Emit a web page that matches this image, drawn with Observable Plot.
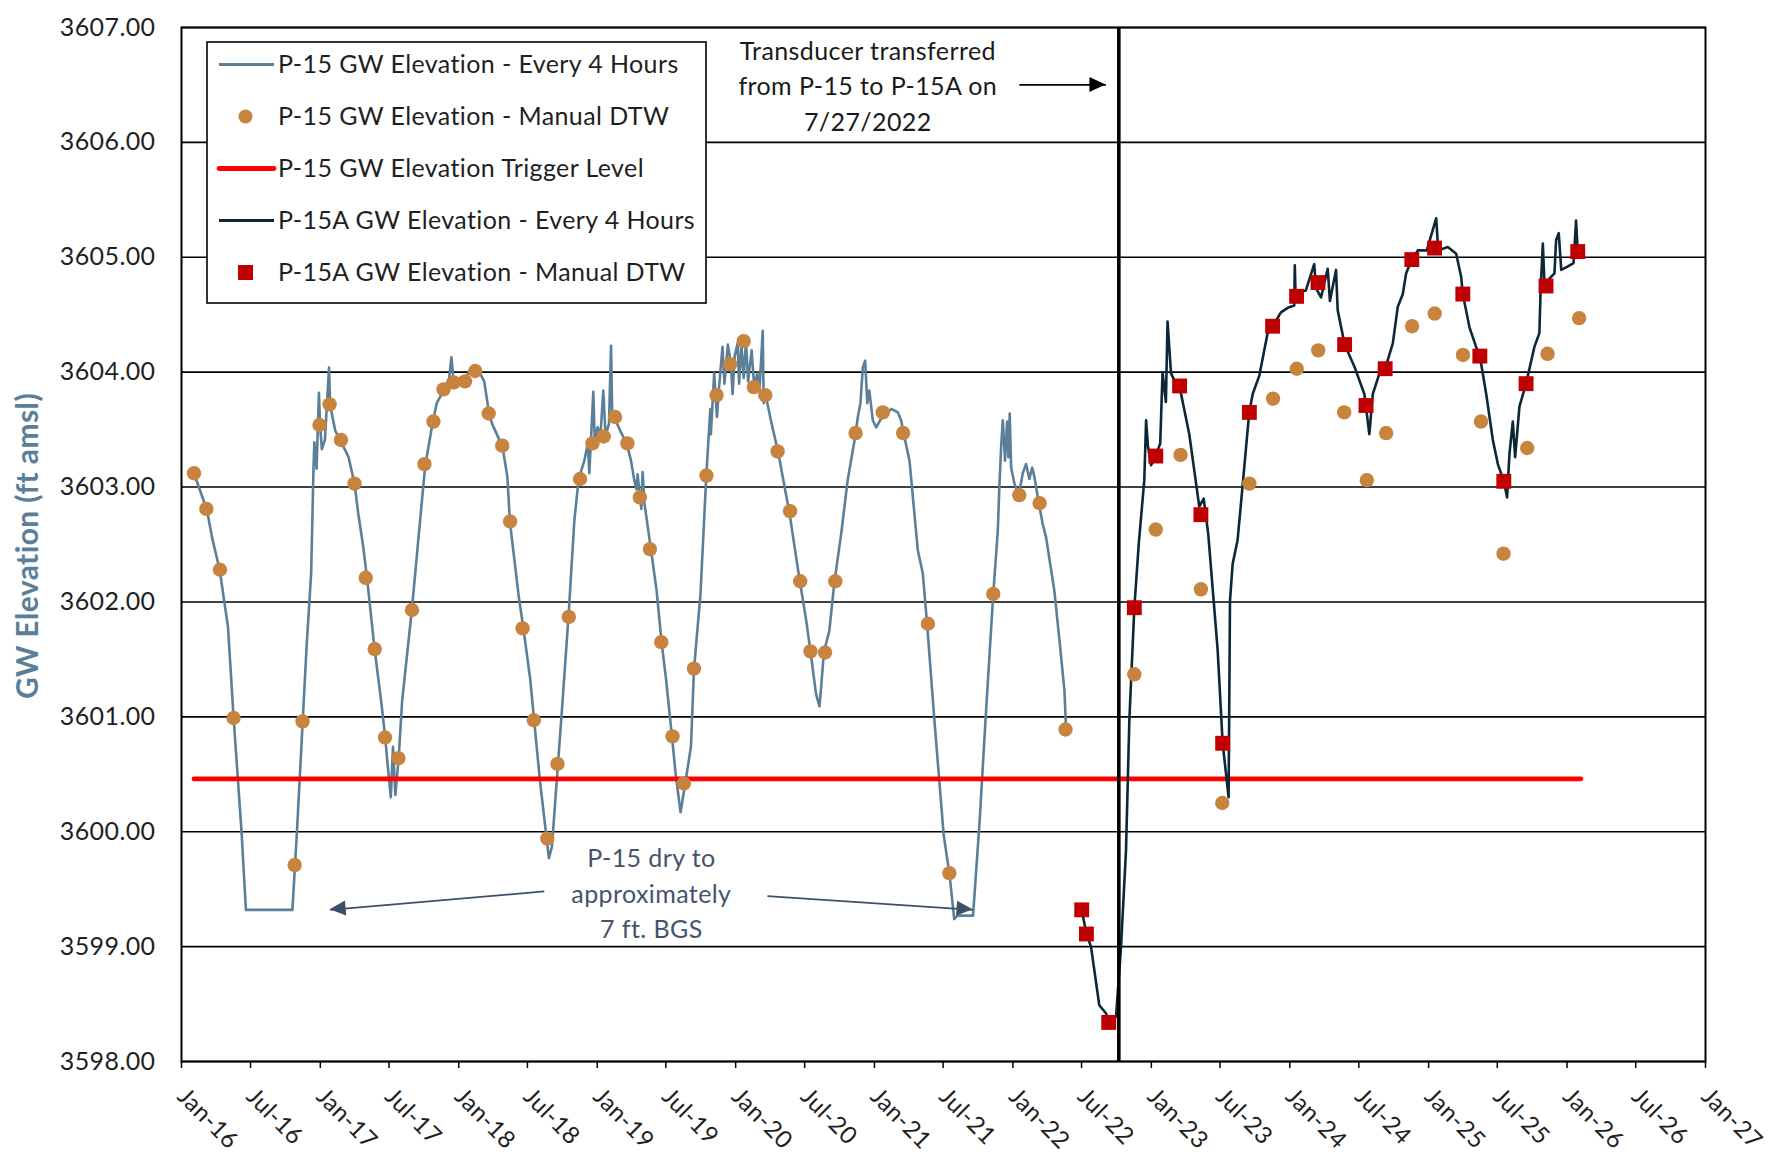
<!DOCTYPE html>
<html>
<head>
<meta charset="utf-8">
<script src="https://cdn.jsdelivr.net/npm/d3@7"></script>
<script src="https://cdn.jsdelivr.net/npm/@observablehq/plot@0.6"></script>
<style>
  body { margin: 0; background: #fff; }
  #chart { width: 1770px; height: 1154px; }
  #chart svg text { letter-spacing: 0.4px; }
</style>
</head>
<body>
<div id="chart"></div>
<script>
// ---------- DATA ----------
// P-15 GW Elevation - Every 4 Hours (decimal year, ft amsl)
const p15LineYear = [2016.090,2016.183,2016.224,2016.275,2016.335,2016.376,2016.432,2016.464,2016.799,2016.832,
2016.873,2016.901,2016.934,2016.951,2016.957,2016.973,2016.990,2016.998,2017.011,2017.033,
2017.063,2017.071,2017.108,2017.144,2017.204,2017.247,2017.274,2017.310,2017.338,2017.392,
2017.439,2017.470,2017.481,2017.509,2017.525,2017.542,2017.566,2017.591,2017.661,2017.730,
2017.758,2017.813,2017.841,2017.890,2017.931,2017.947,2017.964,2018.045,2018.086,2018.135,
2018.184,2018.219,2018.241,2018.316,2018.351,2018.370,2018.434,2018.467,2018.517,2018.545,
2018.586,2018.628,2018.651,2018.673,2018.716,2018.747,2018.793,2018.835,2018.866,2018.907,
2018.932,2018.943,2018.954,2018.972,2018.982,2019.003,2019.023,2019.044,2019.060,2019.085,
2019.100,2019.109,2019.123,2019.170,2019.215,2019.244,2019.268,2019.284,2019.292,2019.309,
2019.319,2019.328,2019.341,2019.388,2019.429,2019.465,2019.498,2019.540,2019.566,2019.602,
2019.636,2019.677,2019.699,2019.746,2019.788,2019.817,2019.821,2019.845,2019.865,2019.879,
2019.905,2019.919,2019.944,2019.966,2019.978,2019.993,2020.014,2020.025,2020.041,2020.058,
2020.074,2020.090,2020.115,2020.134,2020.156,2020.172,2020.195,2020.202,2020.218,2020.254,
2020.307,2020.339,2020.387,2020.447,2020.464,2020.508,2020.539,2020.579,2020.604,2020.620,
2020.635,2020.675,2020.711,2020.760,2020.807,2020.864,2020.880,2020.899,2020.916,2020.933,
2020.948,2020.963,2020.988,2021.013,2021.049,2021.121,2021.169,2021.193,2021.210,2021.253,
2021.313,2021.349,2021.380,2021.433,2021.500,2021.541,2021.576,2021.598,2021.712,2021.760,
2021.801,2021.858,2021.891,2021.902,2021.915,2021.927,2021.943,2021.958,2021.968,2021.977,
2021.987,2022.011,2022.043,2022.071,2022.095,2022.119,2022.139,2022.155,2022.187,2022.215,
2022.240,2022.299,2022.336,2022.372,2022.384];
const p15LineValue = [3603.12,3602.80,3602.54,3602.28,3601.78,3600.98,3600.01,3599.32,3599.32,3600.01,
3600.96,3601.61,3602.25,3603.17,3603.39,3603.16,3603.82,3603.54,3603.33,3603.41,
3604.04,3603.71,3603.49,3603.41,3603.26,3603.03,3602.77,3602.48,3602.20,3601.59,
3601.14,3600.81,3600.65,3600.30,3600.74,3600.32,3600.64,3601.14,3601.93,3602.83,
3603.19,3603.57,3603.73,3603.84,3603.95,3604.13,3603.90,3603.94,3604.03,3604.03,
3603.92,3603.64,3603.55,3603.35,3603.09,3602.69,3602.04,3601.77,3601.32,3600.96,
3600.45,3600.01,3599.77,3599.87,3600.58,3601.09,3601.88,3602.71,3603.07,3603.23,
3603.38,3603.12,3603.39,3603.83,3603.40,3603.52,3603.44,3603.84,3603.45,3603.55,
3604.23,3603.58,3603.61,3603.48,3603.37,3603.23,3603.06,3602.98,3603.11,3602.90,
3602.81,3603.13,3602.86,3602.46,3602.10,3601.65,3601.32,3600.83,3600.51,3600.17,
3600.42,3600.74,3601.41,3602.07,3603.10,3603.68,3603.46,3603.99,3603.61,3603.85,
3604.22,3603.90,3604.24,3604.07,3603.81,3604.14,3604.25,3603.90,3604.24,3603.95,
3604.27,3603.92,3604.19,3603.87,3603.99,3603.85,3604.36,3603.73,3603.79,3603.58,
3603.30,3603.09,3602.78,3602.30,3602.17,3601.84,3601.57,3601.20,3601.09,3601.32,
3601.56,3601.75,3602.17,3602.59,3603.06,3603.46,3603.61,3603.73,3604.04,3604.10,
3603.73,3603.84,3603.58,3603.52,3603.60,3603.68,3603.65,3603.58,3603.47,3603.23,
3602.45,3602.25,3601.81,3600.97,3599.97,3599.64,3599.24,3599.27,3599.27,3600.10,
3600.95,3602.07,3602.62,3603.00,3603.35,3603.58,3603.23,3603.57,3603.26,3603.64,
3603.17,3603.03,3602.93,3603.12,3603.20,3603.07,3603.17,3603.09,3602.86,3602.68,
3602.56,3602.10,3601.67,3601.23,3600.90];

// P-15 GW Elevation - Manual DTW
const p15ManualYear = [2016.090,2016.179,2016.277,2016.375,2016.815,2016.872,2016.994,2017.067,2017.149,2017.247,
2017.328,2017.393,2017.467,2017.564,2017.662,2017.752,2017.817,2017.890,2017.964,2018.045,
2018.119,2018.216,2018.314,2018.371,2018.461,2018.542,2018.640,2018.713,2018.795,2018.876,
2018.966,2019.047,2019.129,2019.218,2019.308,2019.381,2019.463,2019.544,2019.626,2019.699,
2019.789,2019.862,2019.960,2020.058,2020.131,2020.213,2020.302,2020.392,2020.465,2020.539,
2020.644,2020.718,2020.864,2021.060,2021.207,2021.386,2021.541,2021.858,2022.046,2022.193,
2022.380,2022.877,2023.032,2023.211,2023.358,2023.512,2023.708,2023.879,2024.050,2024.205,
2024.392,2024.555,2024.694,2024.881,2025.044,2025.248,2025.378,2025.541,2025.712,2025.859,
2026.087];
const p15ManualValue = [3603.12,3602.81,3602.28,3600.99,3599.71,3600.96,3603.54,3603.72,3603.41,3603.03,
3602.21,3601.59,3600.82,3600.64,3601.93,3603.20,3603.57,3603.85,3603.91,3603.92,
3604.01,3603.64,3603.36,3602.70,3601.77,3600.97,3599.94,3600.59,3601.87,3603.07,
3603.38,3603.44,3603.61,3603.38,3602.91,3602.46,3601.65,3600.83,3600.42,3601.42,
3603.10,3603.80,3604.07,3604.27,3603.87,3603.80,3603.31,3602.79,3602.18,3601.57,
3601.56,3602.18,3603.47,3603.65,3603.47,3601.81,3599.64,3602.07,3602.93,3602.86,
3600.89,3601.37,3602.63,3603.28,3602.11,3600.25,3603.03,3603.77,3604.03,3604.19,
3603.65,3603.06,3603.47,3604.40,3604.51,3604.15,3603.57,3602.42,3603.34,3604.16,
3604.47];

// P-15A GW Elevation - Every 4 Hours
const p15aLineYear = [2022.497,2022.531,2022.564,2022.624,2022.672,2022.692,2022.745,2022.781,2022.817,2022.841,
2022.877,2022.910,2022.949,2022.962,2022.975,2022.998,2023.032,2023.064,2023.081,2023.105,
2023.117,2023.142,2023.170,2023.203,2023.274,2023.346,2023.378,2023.411,2023.479,2023.515,
2023.558,2023.568,2023.587,2023.623,2023.659,2023.707,2023.732,2023.780,2023.840,2023.876,
2023.936,2023.985,2024.032,2024.036,2024.042,2024.083,2024.115,2024.176,2024.189,2024.225,
2024.273,2024.289,2024.333,2024.345,2024.395,2024.465,2024.537,2024.573,2024.598,2024.646,
2024.687,2024.742,2024.778,2024.814,2024.838,2024.879,2024.922,2024.987,2025.055,2025.069,
2025.139,2025.199,2025.235,2025.247,2025.295,2025.343,2025.370,2025.416,2025.464,2025.500,
2025.543,2025.567,2025.584,2025.608,2025.625,2025.656,2025.704,2025.764,2025.800,2025.808,
2025.825,2025.837,2025.909,2025.921,2025.940,2025.958,2026.006,2026.047,2026.065,2026.077];
const p15aLineValue = [3599.32,3599.11,3599.00,3598.49,3598.42,3598.34,3598.39,3599.00,3599.84,3600.97,
3601.95,3602.52,3603.06,3603.58,3603.36,3603.19,3603.27,3603.38,3604.00,3603.74,
3604.44,3603.99,3603.92,3603.88,3603.46,3602.83,3602.90,3602.59,3601.58,3600.77,
3600.30,3602.01,3602.33,3602.54,3603.01,3603.65,3603.81,3603.97,3604.34,3604.40,
3604.52,3604.56,3604.58,3604.93,3604.66,3604.70,3604.71,3604.94,3604.73,3604.65,
3604.90,3604.62,3604.89,3604.54,3604.24,3604.05,3603.81,3603.46,3603.81,3603.99,
3604.03,3604.25,3604.57,3604.68,3604.86,3604.98,3605.06,3605.06,3605.34,3605.06,
3605.09,3605.03,3604.83,3604.68,3604.39,3604.22,3604.14,3603.81,3603.41,3603.20,
3603.05,3602.91,3603.29,3603.57,3603.26,3603.70,3603.90,3604.22,3604.34,3604.68,
3605.12,3604.77,3604.86,3605.15,3605.21,3604.89,3604.92,3604.95,3605.32,3605.05];

// P-15A GW Elevation - Manual DTW
const p15aManualYear = [2022.497,2022.531,2022.692,2022.877,2023.032,2023.204,2023.358,2023.515,2023.708,2023.876,
2024.049,2024.203,2024.395,2024.549,2024.687,2024.879,2025.043,2025.247,2025.370,2025.543,
2025.704,2025.848,2026.077];
const p15aManualValue = [3599.32,3599.11,3598.34,3601.95,3603.27,3603.88,3602.76,3600.77,3603.65,3604.40,
3604.66,3604.78,3604.24,3603.71,3604.03,3604.98,3605.08,3604.68,3604.14,3603.05,
3603.90,3604.75,3605.05];

// P-15 GW Elevation Trigger Level
const triggerYear = [2016.090, 2026.100];
const triggerValue = [3600.46, 3600.46];

// Transducer transfer marker
const transferYear = [2022.765];

// Annotations
const noteText = ["Transducer transferred\nfrom P-15 to P-15A on\n7/27/2022", "P-15 dry to\napproximately\n7 ft. BGS"];
const noteYear = [2020.952, 2019.391];
const noteValue = [3606.51, 3599.48];
const noteColor = ["#1a1a1a", "#44546a"];
const arrowFromYear = [2022.047, 2018.618, 2020.229];
const arrowFromValue = [3606.50, 3599.48, 3599.44];
const arrowToYear = [2022.672, 2017.071, 2021.712];
const arrowToValue = [3606.50, 3599.32, 3599.32];
const arrowColor = ["#000000", "#3d5166", "#3d5166"];

// Axes
const xTickDates = ["2016-01-01","2016-07-01","2017-01-01","2017-07-01","2018-01-01","2018-07-01",
"2019-01-01","2019-07-01","2020-01-01","2020-07-01","2021-01-01","2021-07-01","2022-01-01",
"2022-07-01","2023-01-01","2023-07-01","2024-01-01","2024-07-01","2025-01-01","2025-07-01",
"2026-01-01","2026-07-01","2027-01-01"];
const yTicks = [3598, 3599, 3600, 3601, 3602, 3603, 3604, 3605, 3606, 3607];

const legendLabels = ["P-15 GW Elevation - Every 4 Hours", "P-15 GW Elevation - Manual DTW",
  "P-15 GW Elevation Trigger Level", "P-15A GW Elevation - Every 4 Hours", "P-15A GW Elevation - Manual DTW"];
const yTitle = "GW Elevation (ft amsl)";

// ---------- helpers ----------
function yearToDate(y) {
  const yr = Math.floor(y);
  const a = Date.UTC(yr, 0, 1), b = Date.UTC(yr + 1, 0, 1);
  return new Date(a + (y - yr) * (b - a));
}
const zipSeries = (ys, vs) => ys.map((y, i) => ({date: yearToDate(y), value: vs[i]}));

const p15Line = zipSeries(p15LineYear, p15LineValue);
const p15Manual = zipSeries(p15ManualYear, p15ManualValue);
const p15aLine = zipSeries(p15aLineYear, p15aLineValue);
const p15aManual = zipSeries(p15aManualYear, p15aManualValue);
const trigger = zipSeries(triggerYear, triggerValue);
const notes = noteText.map((t, i) => ({text: t, date: yearToDate(noteYear[i]), value: noteValue[i], color: noteColor[i]}));
const arrows = arrowFromYear.map((y, i) => ({
  x1: yearToDate(y), y1: arrowFromValue[i], x2: yearToDate(arrowToYear[i]), y2: arrowToValue[i], color: arrowColor[i]
}));

const C_P15 = "#5b7f99", C_P15A = "#0c2737", C_DOT = "#c8843f", C_SQ = "#c00000", C_TRIG = "#ff0000";

const plot = Plot.plot({
  width: 1770,
  height: 1154,
  marginLeft: 181,
  marginRight: 65,
  marginTop: 27,
  marginBottom: 93,
  style: {fontFamily: "Lato, 'Open Sans', sans-serif", fontSize: "25px", color: "#1f1f1f", background: "#fff", overflow: "visible"},
  x: {type: "utc", domain: [new Date("2016-01-01"), new Date("2027-01-01")]},
  y: {domain: [3598, 3607]},
  marks: [
    Plot.ruleY(yTicks, {stroke: "#000", strokeWidth: 1.6}),
    Plot.line(p15Line, {x: "date", y: "value", stroke: C_P15, strokeWidth: 2.6, strokeLinejoin: "round"}),
    Plot.line(trigger, {x: "date", y: "value", stroke: C_TRIG, strokeWidth: 4.8, strokeLinecap: "round"}),
    Plot.line(p15aLine, {x: "date", y: "value", stroke: C_P15A, strokeWidth: 2.6, strokeLinejoin: "round"}),
    Plot.ruleX(transferYear.map(yearToDate), {stroke: "#000", strokeWidth: 3.6}),
    Plot.dot(p15Manual, {x: "date", y: "value", r: 7.2, fill: C_DOT}),
    Plot.dot(p15aManual, {x: "date", y: "value", r: 8.4, symbol: "square", fill: C_SQ}),
    Plot.frame({stroke: "#000", strokeWidth: 2}),
    Plot.axisY({ticks: yTicks, tickFormat: d => d.toFixed(2), tickSize: 0, tickPadding: 26, fontSize: 25, label: null}),
    Plot.axisX({ticks: xTickDates.map(d => new Date(d)), tickFormat: d3.utcFormat("%b-%y"), tickRotate: 45,
      tickSize: 7, tickPadding: 24, textAnchor: "start", lineAnchor: "middle", fontSize: 24, label: null, stroke: "#000", strokeWidth: 1.5}),
    Plot.link(arrows, {x1: "x1", y1: "y1", x2: "x2", y2: "y2", stroke: "color", strokeWidth: 1.8}),
    Plot.text(notes, {x: "date", y: "value", text: "text", fill: "color", fontSize: 25, lineHeight: 1.42, textAnchor: "middle", lineAnchor: "middle"})
  ]
});

document.getElementById("chart").appendChild(plot);

// Arrow heads, positioned through the plot's own scales
const sx = plot.scale("x"), sy = plot.scale("y");
const svg = d3.select(plot);
arrows.forEach(a => {
  const X1 = sx.apply(a.x1), Y1 = sy.apply(a.y1), X2 = sx.apply(a.x2), Y2 = sy.apply(a.y2);
  const ang = Math.atan2(Y2 - Y1, X2 - X1), L = 16, W = 7.5;
  const bx = X2 - L * Math.cos(ang), by = Y2 - L * Math.sin(ang);
  const pts = [[X2, Y2], [bx + W * Math.sin(ang), by - W * Math.cos(ang)], [bx - W * Math.sin(ang), by + W * Math.cos(ang)]];
  svg.append("polygon").attr("points", pts.map(p => p.join(",")).join(" ")).attr("fill", a.color);
});

// Y-axis title
svg.append("text")
  .attr("transform", "translate(30,546) rotate(-90)")
  .attr("text-anchor", "middle").attr("dominant-baseline", "middle")
  .attr("font-weight", "bold").attr("font-size", 30).attr("fill", C_P15)
  .text(yTitle);

// Legend
const lg = svg.append("g").attr("text-anchor", "start");
lg.append("rect").attr("x", 207).attr("y", 42).attr("width", 499).attr("height", 261)
  .attr("fill", "#fff").attr("stroke", "#000").attr("stroke-width", 1.6);
const rowY = [64.5, 116.5, 168.5, 220.5, 272.5];
lg.append("line").attr("x1", 219).attr("x2", 274).attr("y1", rowY[0]).attr("y2", rowY[0]).attr("stroke", C_P15).attr("stroke-width", 2.8);
lg.append("circle").attr("cx", 245.5).attr("cy", rowY[1]).attr("r", 7).attr("fill", C_DOT);
lg.append("line").attr("x1", 219).attr("x2", 274).attr("y1", rowY[2]).attr("y2", rowY[2]).attr("stroke", C_TRIG).attr("stroke-width", 4.8).attr("stroke-linecap", "round");
lg.append("line").attr("x1", 219).attr("x2", 274).attr("y1", rowY[3]).attr("y2", rowY[3]).attr("stroke", C_P15A).attr("stroke-width", 2.8);
lg.append("rect").attr("x", 238).attr("y", rowY[4] - 7.5).attr("width", 15).attr("height", 15).attr("fill", C_SQ);
legendLabels.forEach((t, i) => {
  lg.append("text").attr("x", 278).attr("y", rowY[i]).attr("dy", "0.35em")
    .attr("text-anchor", "start").attr("font-size", 25).attr("fill", "#1f1f1f").text(t);
});
</script>
</body>
</html>
